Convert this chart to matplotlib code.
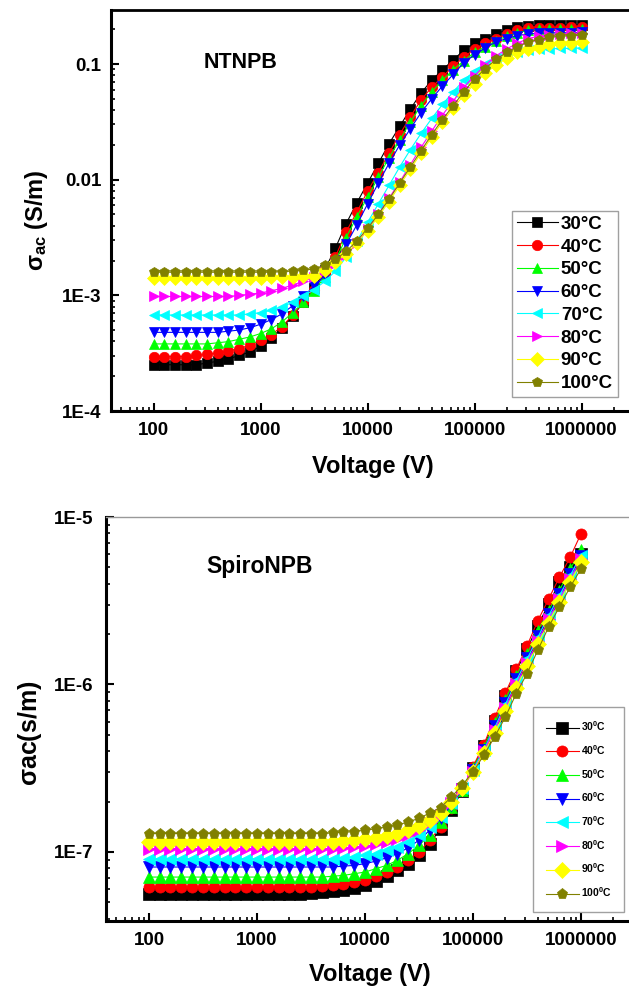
import matplotlib
matplotlib.use("Agg")
import matplotlib.pyplot as plt
import numpy as np
from matplotlib.ticker import LogLocator, NullFormatter

plt.rcParams['font.family'] = ['Liberation Sans', 'DejaVu Sans']
plt.rcParams['font.weight'] = 'bold'
plt.rcParams['mathtext.fontset'] = 'custom'
plt.rcParams['mathtext.rm'] = 'Liberation Sans:bold'
plt.rcParams['mathtext.bf'] = 'Liberation Sans:bold'
plt.rcParams['mathtext.it'] = 'Liberation Sans'

# czestotliwosc pomiaru (os X opisana jako Voltage)
czestotliwosc = [100, 126, 158, 200, 251, 316, 398, 501, 631, 794,
                 1000, 1259, 1585, 1995, 2512, 3162, 3981, 5012, 6310, 7943,
                 10000, 12589, 15849, 19953, 25119, 31623, 39811, 50119, 63096, 79433,
                 100000, 125893, 158489, 199526, 251189, 316228, 398107, 501187, 630957, 794328,
                 1000000]

temperatury = [30, 40, 50, 60, 70, 80, 90, 100]
kolory = ['#000000', '#FF0000', '#00FF00', '#0000FF', '#00FFFF', '#FF00FF', '#FFFF00', '#808000']
markery = ['s', 'o', '^', 'v', '<', '>', 'D', 'p']

# log10(sigma_ac) dla NTNPB
ntnpb_30 = [-3.60, -3.60, -3.60, -3.60, -3.60, -3.585, -3.57, -3.55, -3.52, -3.49,
            -3.44, -3.37, -3.28, -3.18, -3.06, -2.94, -2.78, -2.59, -2.38, -2.20,
            -2.03, -1.86, -1.69, -1.54, -1.39, -1.25, -1.14, -1.05, -0.965, -0.88,
            -0.82, -0.785, -0.74, -0.705, -0.68, -0.67, -0.665, -0.665, -0.66, -0.665,
            -0.66]
ntnpb_40 = [-3.53, -3.53, -3.53, -3.53, -3.52, -3.51, -3.50, -3.48, -3.46, -3.43,
            -3.39, -3.34, -3.27, -3.17, -3.06, -2.95, -2.81, -2.665, -2.45, -2.28,
            -2.10, -1.94, -1.77, -1.61, -1.455, -1.31, -1.20, -1.11, -1.02, -0.94,
            -0.87, -0.82, -0.78, -0.74, -0.71, -0.69, -0.69, -0.685, -0.685, -0.68,
            -0.68]
ntnpb_50 = [-3.42, -3.42, -3.42, -3.42, -3.42, -3.42, -3.41, -3.40, -3.38, -3.36,
            -3.33, -3.29, -3.23, -3.15, -3.06, -2.96, -2.84, -2.70, -2.50, -2.32,
            -2.15, -1.98, -1.81, -1.66, -1.50, -1.36, -1.24, -1.14, -1.05, -0.97,
            -0.90, -0.85, -0.80, -0.76, -0.73, -0.71, -0.70, -0.70, -0.695, -0.70,
            -0.695]
ntnpb_60 = [-3.32, -3.32, -3.32, -3.32, -3.32, -3.32, -3.32, -3.31, -3.30, -3.28,
            -3.25, -3.21, -3.16, -3.09, -3.01, -2.92, -2.83, -2.71, -2.56, -2.39,
            -2.21, -2.03, -1.86, -1.70, -1.56, -1.42, -1.30, -1.19, -1.09, -0.99,
            -0.92, -0.86, -0.81, -0.78, -0.755, -0.74, -0.735, -0.73, -0.73, -0.73,
            -0.725]
ntnpb_70 = [-3.17, -3.17, -3.17, -3.17, -3.17, -3.17, -3.17, -3.17, -3.17, -3.16,
            -3.15, -3.13, -3.10, -3.06, -3.01, -2.95, -2.88, -2.79, -2.67, -2.53,
            -2.37, -2.21, -2.05, -1.89, -1.74, -1.60, -1.47, -1.35, -1.24, -1.14,
            -1.06, -1.00, -0.95, -0.92, -0.90, -0.88, -0.87, -0.87, -0.865, -0.865,
            -0.86]
ntnpb_80 = [-3.01, -3.01, -3.01, -3.01, -3.01, -3.01, -3.01, -3.01, -3.00, -2.99,
            -2.98, -2.96, -2.94, -2.91, -2.88, -2.84, -2.79, -2.73, -2.65, -2.55,
            -2.43, -2.30, -2.16, -2.02, -1.87, -1.72, -1.58, -1.44, -1.32, -1.20,
            -1.10, -1.01, -0.93, -0.87, -0.82, -0.78, -0.76, -0.745, -0.74, -0.735,
            -0.73]
ntnpb_90 = [-2.85, -2.85, -2.85, -2.85, -2.85, -2.85, -2.85, -2.85, -2.85, -2.85,
            -2.85, -2.845, -2.84, -2.84, -2.835, -2.83, -2.78, -2.71, -2.64, -2.55,
            -2.44, -2.32, -2.19, -2.05, -1.91, -1.77, -1.63, -1.50, -1.38, -1.27,
            -1.17, -1.08, -1.01, -0.95, -0.90, -0.87, -0.85, -0.83, -0.82, -0.815,
            -0.81]
ntnpb_100 = [-2.80, -2.80, -2.80, -2.80, -2.80, -2.80, -2.80, -2.80, -2.80, -2.80,
             -2.80, -2.80, -2.795, -2.79, -2.785, -2.77, -2.74, -2.69, -2.62, -2.53,
             -2.42, -2.30, -2.17, -2.03, -1.89, -1.75, -1.61, -1.48, -1.36, -1.24,
             -1.13, -1.04, -0.96, -0.90, -0.85, -0.81, -0.79, -0.77, -0.76, -0.755,
             -0.75]

# log10(sigma_ac) dla SpiroNPB
spiro_30 = [-7.25, -7.25, -7.25, -7.25, -7.25, -7.25, -7.25, -7.25, -7.25, -7.25,
            -7.25, -7.25, -7.25, -7.25, -7.25, -7.245, -7.24, -7.235, -7.228, -7.215,
            -7.197, -7.172, -7.145, -7.11, -7.07, -7.02, -6.95, -6.86, -6.75, -6.635,
            -6.50, -6.37, -6.22, -6.07, -5.92, -5.79, -5.65, -5.52, -5.39, -5.30,
            -5.22]
spiro_40 = [-7.21, -7.21, -7.21, -7.21, -7.21, -7.21, -7.21, -7.21, -7.21, -7.21,
            -7.21, -7.21, -7.21, -7.21, -7.21, -7.21, -7.205, -7.20, -7.19, -7.18,
            -7.165, -7.145, -7.12, -7.09, -7.05, -7.00, -6.93, -6.85, -6.74, -6.63,
            -6.49, -6.36, -6.20, -6.05, -5.91, -5.77, -5.62, -5.49, -5.36, -5.24,
            -5.10]
spiro_50 = [-7.15, -7.15, -7.15, -7.15, -7.15, -7.15, -7.15, -7.15, -7.15, -7.15,
            -7.15, -7.15, -7.15, -7.15, -7.15, -7.15, -7.15, -7.145, -7.14, -7.13,
            -7.12, -7.10, -7.08, -7.05, -7.01, -6.96, -6.90, -6.82, -6.73, -6.63,
            -6.50, -6.38, -6.23, -6.09, -5.95, -5.82, -5.68, -5.56, -5.44, -5.31,
            -5.20]
spiro_60 = [-7.09, -7.09, -7.09, -7.09, -7.09, -7.09, -7.09, -7.09, -7.09, -7.09,
            -7.09, -7.09, -7.09, -7.09, -7.09, -7.09, -7.09, -7.09, -7.085, -7.08,
            -7.07, -7.055, -7.035, -7.01, -6.975, -6.93, -6.87, -6.80, -6.72, -6.625,
            -6.51, -6.39, -6.25, -6.11, -5.97, -5.84, -5.71, -5.58, -5.46, -5.34,
            -5.23]
spiro_70 = [-7.04, -7.04, -7.04, -7.04, -7.04, -7.04, -7.04, -7.04, -7.04, -7.04,
            -7.04, -7.04, -7.04, -7.04, -7.04, -7.04, -7.04, -7.04, -7.035, -7.03,
            -7.02, -7.01, -6.99, -6.97, -6.94, -6.90, -6.85, -6.79, -6.71, -6.62,
            -6.51, -6.39, -6.26, -6.12, -5.98, -5.85, -5.72, -5.59, -5.47, -5.35,
            -5.23]
spiro_80 = [-6.98, -6.98, -6.98, -6.98, -6.98, -6.98, -6.98, -6.98, -6.98, -6.98,
            -6.98, -6.98, -6.98, -6.98, -6.98, -6.98, -6.98, -6.98, -6.975, -6.97,
            -6.965, -6.955, -6.94, -6.925, -6.90, -6.87, -6.83, -6.78, -6.71, -6.625,
            -6.52, -6.40, -6.27, -6.14, -6.00, -5.87, -5.74, -5.61, -5.49, -5.37,
            -5.25]
spiro_90 = [-6.94, -6.94, -6.94, -6.94, -6.94, -6.94, -6.94, -6.94, -6.94, -6.94,
            -6.94, -6.94, -6.94, -6.94, -6.94, -6.94, -6.94, -6.94, -6.935, -6.93,
            -6.925, -6.915, -6.905, -6.89, -6.87, -6.845, -6.81, -6.765, -6.70, -6.62,
            -6.52, -6.41, -6.29, -6.16, -6.02, -5.89, -5.76, -5.63, -5.51, -5.39,
            -5.27]
spiro_100 = [-6.89, -6.89, -6.89, -6.89, -6.89, -6.89, -6.89, -6.89, -6.89, -6.89,
             -6.89, -6.89, -6.89, -6.89, -6.89, -6.89, -6.89, -6.886, -6.883, -6.878,
             -6.87, -6.862, -6.851, -6.84, -6.82, -6.80, -6.767, -6.735, -6.672, -6.602,
             -6.522, -6.423, -6.313, -6.194, -6.055, -5.935, -5.796, -5.657, -5.537, -5.418,
             -5.309]

ntnpb = [ntnpb_30, ntnpb_40, ntnpb_50, ntnpb_60, ntnpb_70, ntnpb_80, ntnpb_90, ntnpb_100]
spiro = [spiro_30, spiro_40, spiro_50, spiro_60, spiro_70, spiro_80, spiro_90, spiro_100]

x_ticki = [100, 1000, 10000, 100000, 1000000]
x_opisy = ['100', '1000', '10000', '100000', '1000000']
y_ticki_gora = [1e-4, 1e-3, 1e-2, 1e-1]
y_opisy_gora = ['1E-4', '1E-3', '0.01', '0.1']
y_ticki_dol = [1e-7, 1e-6, 1e-5]
y_opisy_dol = ['1E-7', '1E-6', '1E-5']

W, H = 629, 990


def px(x0, y_top, x1, y_bottom):
    return [x0 / W, 1 - y_bottom / H, (x1 - x0) / W, (y_bottom - y_top) / H]


def rysuj_serie(ax, serie, etykiety, rozmiar):
    for log_y, kolor, marker, etykieta in zip(serie, kolory, markery, etykiety):
        ax.plot(czestotliwosc, 10 ** np.array(log_y), color=kolor, marker=marker,
                markersize=rozmiar, markeredgecolor=kolor, markeredgewidth=0.5,
                lw=0.8, label=etykieta)


def ustaw_osie(ax, y_ticki, y_opisy, pad_y):
    ax.set_xscale('log')
    ax.set_yscale('log')
    ax.set_xlim(40, 4e6)
    ax.set_xticks(x_ticki)
    ax.set_xticklabels(x_opisy)
    ax.set_yticks(y_ticki)
    ax.set_yticklabels(y_opisy)
    ax.xaxis.set_minor_locator(LogLocator(base=10, subs=range(2, 10), numticks=50))
    ax.yaxis.set_minor_locator(LogLocator(base=10, subs=range(2, 10), numticks=50))
    ax.xaxis.set_minor_formatter(NullFormatter())
    ax.yaxis.set_minor_formatter(NullFormatter())
    ax.tick_params(which='major', direction='in', length=6, width=1.5,
                   labelsize=13.5, top=False, right=False)
    ax.tick_params(which='minor', direction='in', length=3, width=1.2,
                   top=False, right=False)
    ax.tick_params(axis='x', which='major', pad=8)
    ax.tick_params(axis='y', which='major', pad=pad_y)
    for s in ['left', 'bottom']:
        ax.spines[s].set_linewidth(2.2)
    ax.spines['right'].set_visible(False)


fig = plt.figure(figsize=(W / 100, H / 100), dpi=100)

# panel NTNPB
ax1 = fig.add_axes(px(111, 10, 646, 411))
rysuj_serie(ax1, ntnpb, [f'{t}°C' for t in temperatury], 7.5)
ustaw_osie(ax1, y_ticki_gora, y_opisy_gora, 7)
ax1.set_ylim(1e-4, 0.293)
ax1.spines['top'].set_linewidth(2.0)
leg1 = ax1.legend(loc='upper left', bbox_to_anchor=(512 / W, 1 - 211 / H),
                  bbox_transform=fig.transFigure, fontsize=13.5, fancybox=False,
                  edgecolor='#888888', handlelength=2.2, handletextpad=0.15,
                  labelspacing=0.3, borderpad=0.25, borderaxespad=0)
leg1.get_frame().set_linewidth(1.0)
fig.text(241 / W, 1 - 63 / H, 'NTNPB', ha='center', va='center', fontsize=15.5, weight='bold')
fig.text(373 / W, 1 - 467 / H, 'Voltage (V)', ha='center', va='center', fontsize=17, weight='bold')
fig.text(36 / W, 1 - 220 / H, r'$\sigma_{ac}$ (S/m)', ha='center', va='center',
         rotation=90, fontsize=17, weight='bold')

# panel SpiroNPB
ax2 = fig.add_axes(px(106, 517, 646, 921))
rysuj_serie(ax2, spiro, [f'{t}$^0$C' for t in temperatury], 8)
ustaw_osie(ax2, y_ticki_dol, y_opisy_dol, 9)
ax2.set_ylim(3.87e-8, 1e-5)
ax2.spines['top'].set_linewidth(1.0)
ax2.spines['top'].set_color('#999999')
leg2 = ax2.legend(loc='upper left', bbox_to_anchor=(533 / W, 1 - 707 / H),
                  bbox_transform=fig.transFigure, fontsize=7.5, fancybox=False,
                  edgecolor='#888888', handlelength=3.2, handletextpad=0.2,
                  labelspacing=0.95, borderpad=1.2, borderaxespad=0)
leg2.get_frame().set_linewidth(1.0)
fig.text(260 / W, 1 - 567 / H, 'SpiroNPB', ha='center', va='center', fontsize=16.5, weight='bold')
fig.text(370 / W, 1 - 975 / H, 'Voltage (V)', ha='center', va='center', fontsize=17, weight='bold')
fig.text(30 / W, 1 - 733 / H, r'$\sigma$ac(s/m)', ha='center', va='center',
         rotation=90, fontsize=18, weight='bold')

fig.savefig('out.png', dpi=100)
